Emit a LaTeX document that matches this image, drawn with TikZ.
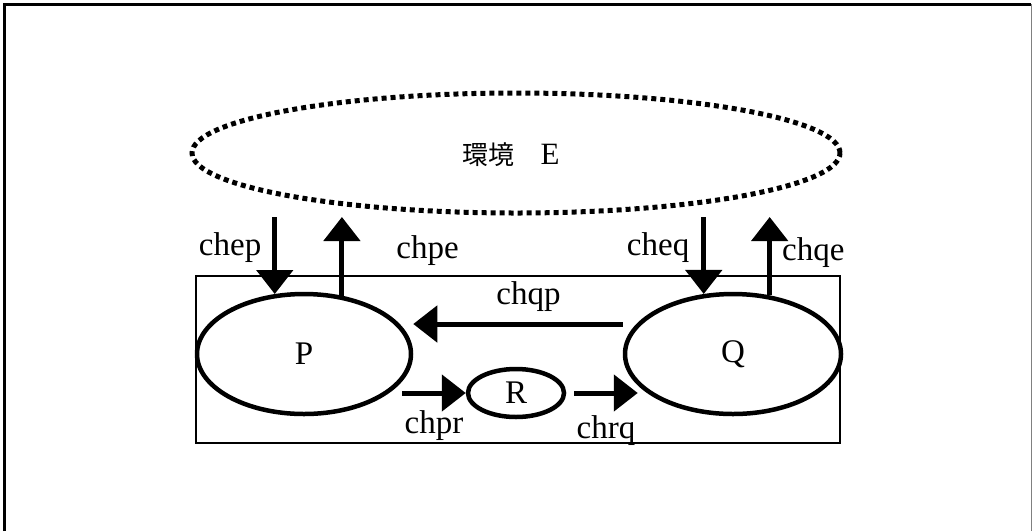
\documentclass[tikz,border=0pt]{standalone}
\usepackage{fontspec}
\setmainfont{Liberation Serif}
\newfontfamily\cjk{Noto Sans CJK JP}
\usetikzlibrary{shapes.geometric,arrows.meta}

\begin{document}
\begin{tikzpicture}[x=1pt, y=-1pt,
    >={Triangle[width=36pt, length=24pt]},
    lbl/.style={font=\fontsize{33}{40}\selectfont, inner sep=0pt},
    proc/.style={ellipse, draw, line width=4.5pt, inner sep=0pt, font=\fontsize{33}{40}\selectfont},
    flow/.style={->, line width=5pt}]
        \useasboundingbox (0,0) rectangle (1032,531);
        \draw[line width=3pt] (4,531) -- (4,4) -- (1031,4);
        \draw[gray, line width=1pt] (1031,4) -- (1031,531);

        % environment and the system box
        \node[ellipse, draw, line width=5pt, dash pattern=on 5pt off 4pt, minimum width=648, minimum height=120, inner sep=0pt] (E) at (516,153) {};
        \node[lbl, font=\fontsize{31}{40}\selectfont] (Etext) at (511,155) {{\cjk\fontsize{26}{30}\selectfont 環境　}E};
        \draw[line width=1.5pt] (196,276) rectangle (840,443);

        \node[proc, minimum width=214, minimum height=120] (P) at (304,354) {P};
        \node[proc, minimum width=216, minimum height=120] (Q) at (733,354) {Q};
        \node[proc, minimum width=96, minimum height=48] (R) at (516,393) {R};

        \coordinate (top) at (0,217);

        \draw[flow] (P.116 |- top) -- (P.116) node[lbl, pos=0.4, left=11pt] {chep};
        \draw[flow] (P.57) -- (P.57 |- top) node[lbl, pos=0.57, right=52pt] {chpe};
        \draw[flow] (Q.116 |- top) -- (Q.116) node[lbl, pos=0.4, left=12pt] {cheq};
        \draw[flow] (Q.58) -- (Q.58 |- top) node[lbl, pos=0.54, right=10pt] {chqe};

        \draw[flow] ([yshift=30pt]Q.west) -- ([yshift=30pt]P.east) node[lbl, pos=0.45, above=10pt] {chqp};
        \draw[flow] ([xshift=-11pt]P.east |- R.west) -- (R.west) node[lbl, midway, below=15pt] {chpr};
        \draw[flow] ([xshift=8pt]R.east) -- ([xshift=15pt]Q.west |- R.east) node[lbl, midway, below=20pt] {chrq};
      \end{tikzpicture}
\end{document}
